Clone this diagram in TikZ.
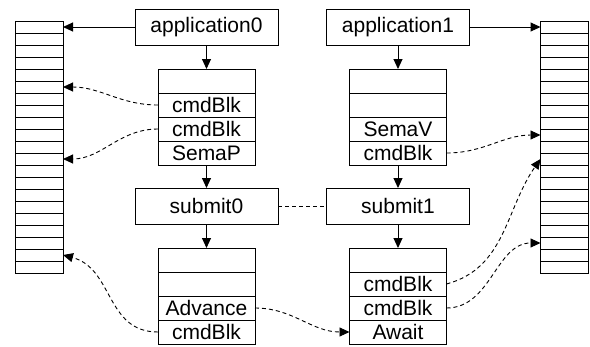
\documentclass[tikz,border=0pt]{standalone}
\usepackage{fontspec}
\setmainfont{Liberation Sans}
\usetikzlibrary{arrows.meta}
\begin{document}
\begin{tikzpicture}[x=1pt,y=-1pt,
  every node/.style={font=\fontsize{21pt}{23pt}\selectfont, inner sep=0pt, outer sep=0pt},
  bigbox/.style={draw, line width=1pt, minimum width=143pt, minimum height=36pt},
  cell/.style={draw, line width=1pt, minimum width=97pt, minimum height=24pt},
  slot/.style={draw, line width=0.8pt, minimum width=48pt, minimum height=12pt},
  arr/.style={line width=1pt, -{Triangle[length=10pt,width=9pt]}},
  darr/.style={line width=0.9pt, dash pattern=on 4pt off 3pt, -{Triangle[length=10pt,width=9pt]}},
  dline/.style={line width=0.9pt, dash pattern=on 4pt off 3pt}]
\useasboundingbox (0,0) rectangle (590,346);
% queues
\foreach \k in {0,...,20} {
  \node[slot] (ql\k) at (39,{27+12*\k}) {};
  \node[slot] (qr\k) at (564.5,{27+12*\k}) {};
}
% top boxes
\node[bigbox] (app0) at (206.5,27) {application0};
\node[bigbox] (app1) at (398,27) {application1};
\node[bigbox] (sub0) at (206.5,206) {submit0};
\node[bigbox] (sub1) at (398,206) {submit1};
% upper stacks
\node[cell] (L1a) at (206.5,81) {};
\node[cell] (L1b) at (206.5,105) {cmdBlk};
\node[cell] (L1c) at (206.5,129) {cmdBlk};
\node[cell] (L1d) at (206.5,153) {SemaP};
\node[cell] (R1a) at (398,81) {};
\node[cell] (R1b) at (398,105) {};
\node[cell] (R1c) at (398,129) {SemaV};
\node[cell] (R1d) at (398,153) {cmdBlk};
% lower stacks
\node[cell] (L2a) at (206.5,260) {};
\node[cell] (L2b) at (206.5,284) {};
\node[cell] (L2c) at (206.5,308) {Advance};
\node[cell] (L2d) at (206.5,332) {cmdBlk};
\node[cell] (R2a) at (398,260) {};
\node[cell] (R2b) at (398,284) {cmdBlk};
\node[cell] (R2c) at (398,308) {cmdBlk};
\node[cell] (R2d) at (398,332) {Await};
% solid arrows
\draw[arr] (app0.west) -- (ql0.east);
\draw[arr] (app1.east) -- (qr0.west);
\draw[arr] (app0.south) -- (L1a.north);
\draw[arr] (L1d.south) -- (sub0.north);
\draw[arr] (sub0.south) -- (L2a.north);
\draw[arr] (app1.south) -- (R1a.north);
\draw[arr] (R1d.south) -- (sub1.north);
\draw[arr] (sub1.south) -- (R2a.north);
% dashed
\draw[dline] (sub0.east) -- (sub1.west);
\draw[darr] (L1b.west) to[out=180,in=0] (ql5.east);
\draw[darr] (L1c.west) to[out=180,in=0] (ql11.east);
\draw[darr] (L2d.west) to[out=180,in=-15,looseness=1.1] (ql19.east);
\draw[darr] (L2c.east) to[out=0,in=180] (R2d.west);
\draw[darr] (R1d.east) to[out=0,in=180] (qr9.west);
\draw[darr] (R2b.east) to[out=15,in=235] (qr11.west);
\draw[darr] (R2c.east) to[out=0,in=180] (qr18.west);
\end{tikzpicture}
\end{document}
